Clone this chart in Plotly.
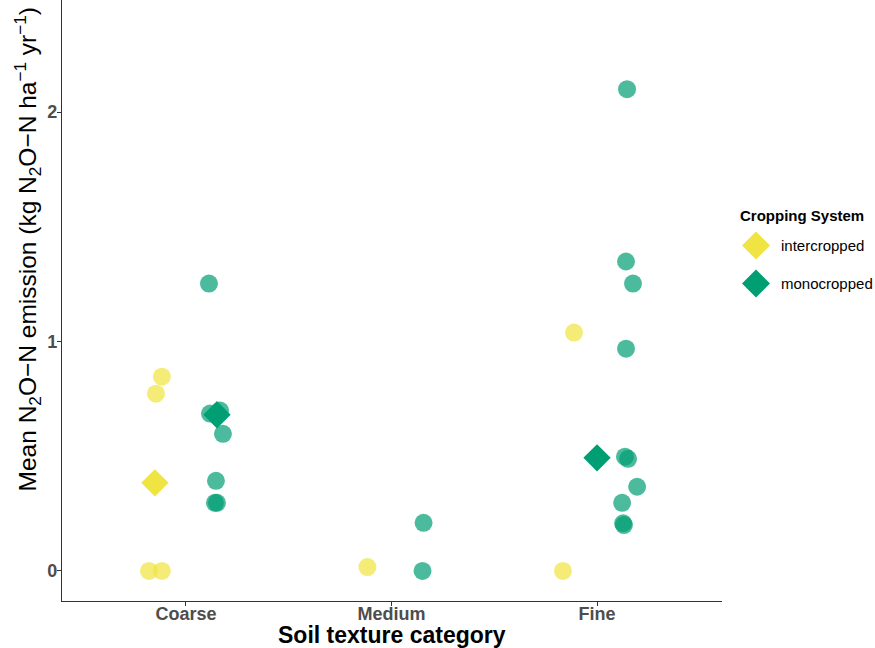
import plotly.graph_objects as go

# ---------------- data ----------------
categories = ["Coarse", "Medium", "Fine"]

inter_cat = ["Coarse", "Coarse", "Coarse", "Coarse", "Medium", "Fine", "Fine"]
inter_val = [0.0, 0.0, 0.773, 0.847, 0.017, 1.039, 0.0]
inter_jit = [-0.029, 0.034, 0.005, 0.034, 0.034, 0.039, -0.015]

mono_cat = ["Coarse"] * 7 + ["Medium"] * 2 + ["Fine"] * 10
mono_val = [1.253, 0.686, 0.699, 0.598, 0.393, 0.297, 0.297,
            0.21, 0.0,
            2.10, 1.349, 1.253, 0.969, 0.498, 0.489, 0.367, 0.297, 0.208, 0.200]
mono_jit = [-0.039, -0.034, 0.015, 0.029, -0.005, -0.010, 0.000,
            0.005, 0.000,
            -0.005, -0.010, 0.024, -0.010, -0.015, 0.000, 0.044, -0.029, -0.024, -0.020]

mean_cat = ["Coarse", "Coarse", "Fine"]
mean_sys = ["intercropped", "monocropped", "monocropped"]
mean_val = [0.384, 0.681, 0.493]

systems = ["intercropped", "monocropped"]
colors = {"intercropped": "#F0E442", "monocropped": "#009E73"}
fills = {"intercropped": "rgba(240,228,66,0.72)", "monocropped": "rgba(0,158,115,0.70)"}

# ---------------- positions ----------------
cat_idx = {c: i + 1 for i, c in enumerate(categories)}
DODGE = 0.151


def dodged(cat, sys, present):
    groups = [s for s in systems if (cat, s) in present]
    if len(groups) < 2:
        return cat_idx[cat]
    return cat_idx[cat] + (-DODGE if sys == "intercropped" else DODGE)


pts_present = set((c, "intercropped") for c in inter_cat) | set((c, "monocropped") for c in mono_cat)
mean_present = set(zip(mean_cat, mean_sys))

fig = go.Figure()

fig.add_trace(go.Scatter(
    x=[dodged(c, "intercropped", pts_present) + j for c, j in zip(inter_cat, inter_jit)],
    y=inter_val, mode="markers", showlegend=False,
    marker=dict(symbol="circle", size=18, color=fills["intercropped"], line=dict(width=0)),
))
fig.add_trace(go.Scatter(
    x=[dodged(c, "monocropped", pts_present) + j for c, j in zip(mono_cat, mono_jit)],
    y=mono_val, mode="markers", showlegend=False,
    marker=dict(symbol="circle", size=18, color=fills["monocropped"], line=dict(width=0)),
))
for s in systems:
    xs = [dodged(c, s, mean_present) for c, ss in zip(mean_cat, mean_sys) if ss == s]
    ys = [v for v, ss in zip(mean_val, mean_sys) if ss == s]
    fig.add_trace(go.Scatter(
        x=xs, y=ys, mode="markers", showlegend=False, name=s,
        marker=dict(symbol="diamond", size=21, color=colors[s], line=dict(width=0)),
    ))

FONT = "Liberation Sans, Arial, Helvetica, sans-serif"

fig.update_layout(
    width=875, height=648,
    margin=dict(l=62, r=153, t=0, b=47, autoexpand=False),
    paper_bgcolor="white", plot_bgcolor="white",
    font=dict(family=FONT),
    xaxis=dict(
        range=[0.397, 3.608], tickvals=[1, 2, 3], ticktext=categories,
        showline=True, linecolor="#333333", linewidth=1.2, mirror=False,
        ticks="outside", ticklen=4, tickcolor="#333333", tickwidth=1,
        showgrid=False, zeroline=False, automargin=False,
        ticklabelstandoff=-8,
        tickfont=dict(family=FONT, size=18, color="#4D4D4D", weight="bold"),
    ),
    yaxis=dict(
        range=[-0.131, 2.489], tickvals=[0, 1, 2], ticktext=["0", "1", "2"],
        showline=True, linecolor="#333333", linewidth=1.2,
        ticks="outside", ticklen=4, tickcolor="#333333", tickwidth=1,
        showgrid=False, zeroline=False, automargin=False,
        ticklabelstandoff=-4,
        tickfont=dict(family=FONT, size=18, color="#4D4D4D", weight="bold"),
    ),
)

annotations = [
    dict(text="Soil texture category", xref="paper", yref="paper", x=0.5, y=-0.057,
         xanchor="center", yanchor="middle", showarrow=False,
         font=dict(family=FONT, size=23, color="black", weight="bold")),
    dict(text="Mean N<sub>2</sub>O\u2212N emission (kg N<sub>2</sub>O\u2212N ha<sup>\u22121</sup> yr<sup>\u22121</sup>)",
         xref="paper", yref="paper", x=-0.053, y=0.585, textangle=-90,
         xanchor="center", yanchor="middle", showarrow=False,
         font=dict(family=FONT, size=24.5, color="black")),
    dict(text="<b>Cropping System</b>", xref="paper", yref="paper", x=1.024, y=0.6417,
         xanchor="left", yanchor="middle", showarrow=False,
         font=dict(family=FONT, size=15, color="black")),
]
shapes = []
legend_y = [0.5917, 0.5283]
for s, ly in zip(systems, legend_y):
    annotations.append(dict(text=s, xref="paper", yref="paper", x=1.0864, y=ly,
                            xanchor="left", yanchor="middle", showarrow=False,
                            font=dict(family=FONT, size=15, color="black")))
    shapes.append(dict(type="path", xref="paper", yref="paper",
                       xsizemode="pixel", ysizemode="pixel",
                       xanchor=1.0515, yanchor=ly,
                       path="M -14 0 L 0 14 L 14 0 L 0 -14 Z",
                       fillcolor=colors[s], line=dict(width=0)))

fig.update_layout(annotations=annotations, shapes=shapes)

fig.write_html(
    "out.html",
    config={"displayModeBar": False},
    post_script="document.body.style.margin='0';document.body.style.overflow='hidden';",
)
